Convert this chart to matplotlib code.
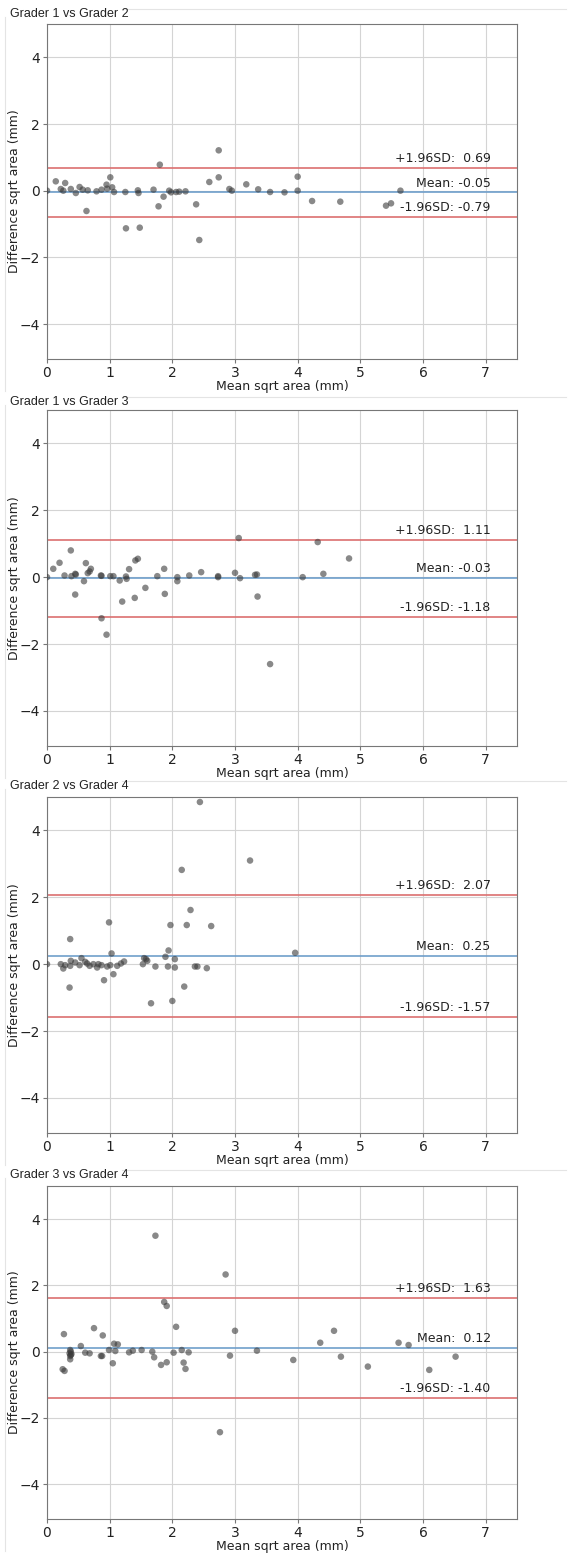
"""
Bland-Altman plots of sqrt lesion area for four grader pairings,
stacked vertically in one tall figure.
"""

import matplotlib
matplotlib.use("Agg")
import matplotlib.pyplot as plt
from matplotlib.lines import Line2D

# --------------------------------------------------------------------------
# Data
# --------------------------------------------------------------------------

TITLES = ["Grader 1 vs Grader 2", "Grader 1 vs Grader 3",
          "Grader 2 vs Grader 4", "Grader 3 vs Grader 4"]

MEANS = [-0.05, -0.03, 0.25, 0.12]
UPPER = [0.69, 1.11, 2.07, 1.63]
LOWER = [-0.79, -1.18, -1.57, -1.40]

x1 = [0.00, 0.14, 0.22, 0.26, 0.29, 0.38, 0.46, 0.52, 0.57, 0.65,
      0.79, 0.87, 0.95, 0.96, 1.01, 1.04, 1.07, 1.25, 1.45, 1.46,
      1.70, 1.80, 1.86, 1.95, 1.98, 2.06, 2.11, 2.21, 2.59, 2.74,
      2.74, 2.91, 2.95, 3.18, 3.37, 3.56, 3.79, 4.00, 4.00, 5.64,
      0.63, 1.26, 1.48, 1.78, 2.38, 2.43, 4.23, 4.68, 5.41, 5.49]
y1 = [0.00, 0.28, 0.05, 0.00, 0.23, 0.05, -0.07, 0.11, 0.03, 0.01,
      -0.02, 0.03, 0.18, 0.06, 0.40, 0.10, -0.04, -0.04, 0.01, -0.07,
      0.03, 0.78, -0.18, 0.00, -0.05, -0.04, -0.03, -0.02, 0.26, 1.21,
      0.40, 0.05, 0.00, 0.19, 0.04, -0.04, -0.05, 0.00, 0.42, 0.00,
      -0.61, -1.13, -1.11, -0.47, -0.41, -1.48, -0.31, -0.33, -0.45, -0.38]

x2 = [0.00, 0.10, 0.20, 0.28, 0.38, 0.39, 0.45, 0.46, 0.59, 0.62,
      0.65, 0.68, 0.70, 0.86, 0.87, 1.01, 1.06, 1.16, 1.26, 1.27,
      1.31, 1.41, 1.45, 1.76, 1.87, 2.08, 2.08, 2.27, 2.46, 2.73,
      2.73, 3.00, 3.06, 3.08, 3.32, 3.35, 4.08, 4.32, 4.41, 4.82,
      0.45, 0.87, 0.95, 1.20, 1.40, 1.57, 1.88, 3.36, 3.56]
y2 = [0.00, 0.25, 0.43, 0.05, 0.80, 0.03, 0.10, 0.08, -0.12, 0.42,
      0.12, 0.17, 0.25, 0.05, 0.04, 0.03, 0.03, -0.10, 0.02, -0.05,
      0.24, 0.50, 0.55, 0.03, 0.25, 0.00, -0.12, 0.05, 0.15, 0.03,
      0.00, 0.13, 1.17, -0.03, 0.07, 0.08, 0.00, 1.05, 0.10, 0.56,
      -0.52, -1.23, -1.72, -0.73, -0.62, -0.32, -0.50, -0.58, -2.60]

x3 = [0.00, 0.37, 0.99, 1.03, 1.97, 2.15, 2.23, 2.29, 2.44, 2.62,
      1.94, 1.89, 2.04, 3.24, 3.96, 1.55, 1.58, 0.22, 0.26, 0.29,
      0.37, 0.38, 0.45, 0.52, 0.55, 0.61, 0.64, 0.68, 0.74, 0.80,
      0.82, 0.87, 0.91, 0.96, 1.01, 1.06, 1.12, 1.18, 1.23, 0.36,
      1.53, 1.60, 1.66, 1.73, 1.93, 2.00, 2.04, 2.19, 2.36, 2.40,
      2.55]
y3 = [0.00, 0.75, 1.25, 0.32, 1.17, 2.82, 1.17, 1.62, 4.85, 1.14,
      0.41, 0.22, 0.15, 3.10, 0.34, 0.18, 0.15, 0.00, -0.13, -0.03,
      -0.05, 0.10, 0.05, -0.03, 0.18, 0.07, 0.02, -0.05, 0.00, -0.10,
      0.00, -0.03, -0.48, -0.07, -0.03, -0.30, -0.05, 0.02, 0.08, -0.70,
      0.00, 0.10, -1.17, -0.07, -0.07, -1.10, -0.10, -0.67, -0.07, -0.07,
      -0.12]

x4 = [0.27, 0.37, 0.54, 0.75, 0.89, 0.99, 1.07, 1.13, 1.09, 1.31,
      1.37, 1.51, 1.68, 1.73, 1.87, 1.91, 2.06, 2.02, 2.15, 2.26,
      2.85, 3.00, 3.35, 4.36, 4.58, 5.61, 5.77, 0.25, 0.28, 0.36,
      0.37, 0.37, 0.38, 0.38, 0.39, 0.61, 0.68, 0.86, 0.88, 1.05,
      1.71, 1.82, 1.91, 2.18, 2.21, 2.92, 2.76, 3.93, 4.69, 5.12,
      6.10, 6.52]
y4 = [0.53, 0.05, 0.17, 0.71, 0.49, 0.05, 0.24, 0.22, 0.02, -0.02,
      0.03, 0.05, 0.00, 3.50, 1.50, 1.38, 0.75, -0.03, 0.05, -0.02,
      2.33, 0.63, 0.03, 0.27, 0.63, 0.27, 0.20, -0.53, -0.58, -0.05,
      -0.13, -0.23, 0.00, -0.10, -0.07, -0.03, -0.05, -0.13, -0.13, -0.35,
      -0.17, -0.40, -0.32, -0.33, -0.52, -0.12, -2.43, -0.25, -0.15, -0.45,
      -0.55, -0.15]

XS = [x1, x2, x3, x4]
YS = [y1, y2, y3, y4]

XTICKS = [0, 1, 2, 3, 4, 5, 6, 7]
YTICKS = [-4, -2, 0, 2, 4]

# --------------------------------------------------------------------------
# Layout (pixels of a 572 x 1554 canvas)
# --------------------------------------------------------------------------

W, H = 572, 1554
AX_LEFT, AX_RIGHT = 47, 517
AX_SPANS = [(24, 359), (410, 746), (797, 1133), (1186, 1519)]
TITLE_Y = [14, 402, 786, 1175]

MEAN_COLOR = "#6f9fcb"
LIMIT_COLOR = "#dc7070"
DOT_COLOR = "#3a3a3a"
FRAME_COLOR = "#e4e4e4"


def panel(fig, top, bottom, xs, ys, mean, upper, lower):
    ax = fig.add_axes([AX_LEFT / W, 1 - bottom / H,
                       (AX_RIGHT - AX_LEFT) / W, (bottom - top) / H])
    ax.set_xlim(0, 7.5)
    ax.set_ylim(-5.05, 5.0)
    ax.set_xticks(XTICKS)
    ax.set_yticks(YTICKS)
    ax.grid(True, color="#d4d4d4", linewidth=0.8)
    ax.set_axisbelow(True)
    for s in ax.spines.values():
        s.set_color("#777777")
        s.set_linewidth(0.8)
    ax.tick_params(labelsize=10, length=3, color="#777777", pad=2,
                   labelcolor="#222222")

    ax.axhline(upper, color=LIMIT_COLOR, lw=1.2, zorder=2)
    ax.axhline(lower, color=LIMIT_COLOR, lw=1.2, zorder=2)
    ax.axhline(mean, color=MEAN_COLOR, lw=1.2, zorder=2)

    ax.scatter(xs, ys, s=22, color=DOT_COLOR, alpha=0.6,
               edgecolors="none", zorder=3)

    tx = 7.08
    kw = dict(ha="right", va="bottom", fontsize=9, color="#222222")
    ax.text(tx, upper + 0.08, f"+1.96SD: {upper: .2f}", **kw)
    ax.text(tx, mean + 0.08, f"Mean: {mean: .2f}", **kw)
    ax.text(tx, lower + 0.08, f"-1.96SD: {lower: .2f}", **kw)

    ax.set_xlabel("Mean sqrt area (mm)", fontsize=9, labelpad=0,
                  color="#222222")
    ax.set_ylabel("Difference sqrt area (mm)", fontsize=9,
                  color="#222222")
    ax.yaxis.set_label_coords((21 - AX_LEFT) / (AX_RIGHT - AX_LEFT), 0.5)
    return ax


def main():
    fig = plt.figure(figsize=(W / 100, H / 100), dpi=100)
    for i in range(4):
        top, bottom = AX_SPANS[i]
        panel(fig, top, bottom, XS[i], YS[i], MEANS[i], UPPER[i], LOWER[i])
        fig.text(10 / W, 1 - TITLE_Y[i] / H, TITLES[i], fontsize=9,
                 family=["Liberation Sans", "DejaVu Sans"],
                 ha="left", va="center", color="#222222")

        # faint frame of the original screenshot panels
        fy0 = 1 - (TITLE_Y[i] - 5) / H
        fy1 = 1 - (bottom + 32) / H
        fig.add_artist(Line2D([5 / W, 5 / W], [fy0 - 8 / H, fy1],
                              color=FRAME_COLOR, lw=0.8))
        fig.add_artist(Line2D([122 / W, 566 / W], [fy0, fy0],
                              color=FRAME_COLOR, lw=0.8))
    fig.savefig("out.png", dpi=100)
    plt.close(fig)


if __name__ == "__main__":
    main()
